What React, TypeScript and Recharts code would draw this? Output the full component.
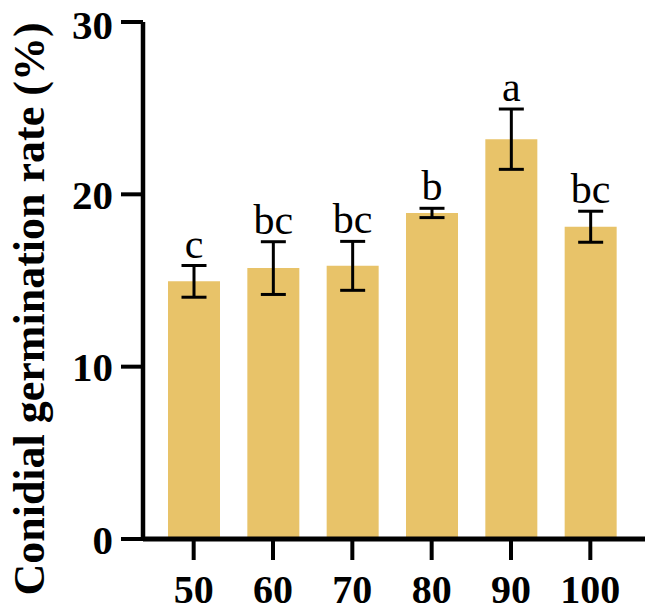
import React from 'react';
import { BarChart, Bar, XAxis, YAxis, ErrorBar, LabelList, Label } from 'recharts';

const categories = ['50', '60', '70', '80', '90', '100'];
const means = [14.95, 15.72, 15.85, 18.92, 23.2, 18.12];
const errors = [0.92, 1.53, 1.42, 0.27, 1.75, 0.9];
const letters = ['c', 'bc', 'bc', 'b', 'a', 'bc'];
const yTicks = [0, 10, 20, 30];

const FONT = "'Times New Roman', 'Liberation Serif', serif";

const chartData = categories.map((name, i) => ({
  name,
  mean: means[i],
  err: errors[i],
  letter: letters[i],
}));

// letter sits just above the error bar cap
const renderLetter = (props: any) => {
  const { x, y, width, height, index } = props;
  const d = chartData[index];
  const pxPerUnit = height / d.mean;
  const capY = y - d.err * pxPerUnit;
  return (
    <text
      x={x + width / 2}
      y={capY - 8}
      textAnchor="middle"
      fontFamily={FONT}
      fontSize={42}
      fill="#000"
    >
      {d.letter}
    </text>
  );
};

const App: React.FC = () => {
  return (
    <div style={{ position: 'absolute', left: 0, top: 0 }}>
      <BarChart
        width={650}
        height={614}
        data={chartData}
        margin={{ top: 22, right: 5, bottom: 0, left: 0 }}
      >
        <XAxis
          dataKey="name"
          height={75}
          padding={{ left: 11, right: 15 }}
          axisLine={{ stroke: '#000', strokeWidth: 5 }}
          tickLine={{ stroke: '#000', strokeWidth: 4 }}
          tickSize={21}
          tickMargin={15}
          tick={{ fill: '#000', fontFamily: FONT, fontSize: 40, fontWeight: 'bold' }}
          interval={0}
        />
        <YAxis
          width={143}
          domain={[0, 30]}
          ticks={yTicks}
          axisLine={{ stroke: '#000', strokeWidth: 4.5 }}
          tickLine={{ stroke: '#000', strokeWidth: 4 }}
          tickSize={22}
          tickMargin={8}
          tick={{ fill: '#000', fontFamily: FONT, fontSize: 41, fontWeight: 'bold' }}
        >
          <Label
            content={() => (
              <text
                x={44}
                y={309}
                transform="rotate(-90, 44, 309)"
                textAnchor="middle"
                fontFamily={FONT}
                fontSize={44}
                fontWeight="bold"
                fill="#000"
              >
                Conidial germination rate (%)
              </text>
            )}
          />
        </YAxis>
        <Bar dataKey="mean" fill="#E8C369" barSize={52} isAnimationActive={false}>
          <ErrorBar dataKey="err" width={12.5} stroke="#000" strokeWidth={3} direction="y" isAnimationActive={false} />
          <LabelList dataKey="letter" content={renderLetter} />
        </Bar>
      </BarChart>
    </div>
  );
};

export default App;
